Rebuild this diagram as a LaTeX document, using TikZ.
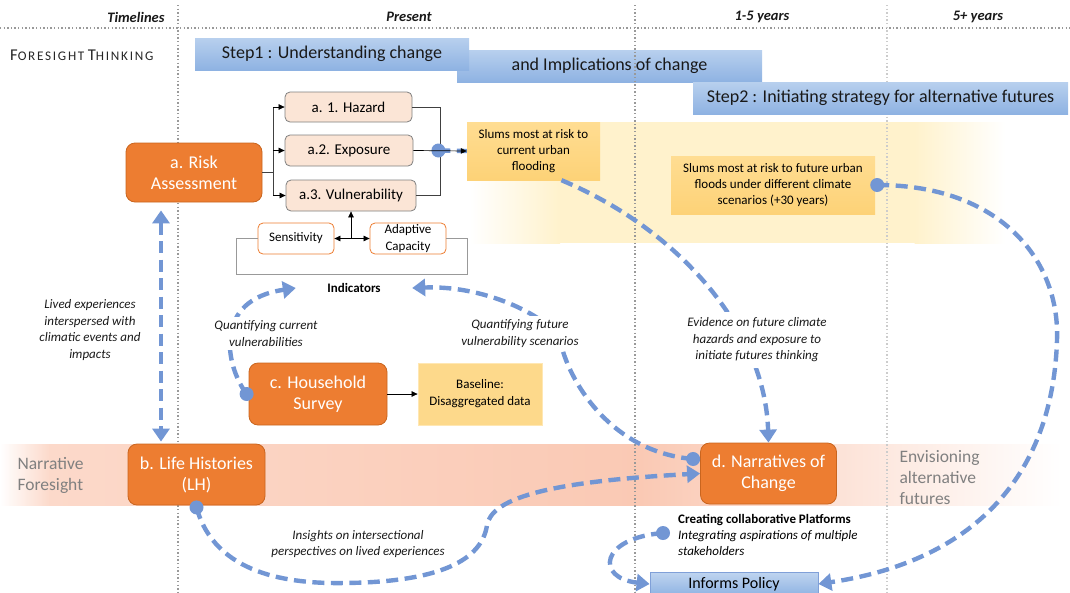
\documentclass[tikz,border=0pt]{standalone}
\usepackage{fontspec}
\setmainfont{Carlito}
\newfontfamily\ftsp[LetterSpace=13]{Carlito}
\usetikzlibrary{arrows.meta}
\definecolor{orn}{HTML}{ED7D31}
\definecolor{ornD}{HTML}{C9651F}
\definecolor{peach}{HTML}{FBE5D6}
\definecolor{slumT}{HTML}{FFDD92}
\definecolor{slumB}{HTML}{FDD277}
\definecolor{bandY}{HTML}{FFF2CC}
\definecolor{pinkA}{HTML}{FCD9CA}
\definecolor{pinkB}{HTML}{FAC9B4}
\definecolor{dblue}{HTML}{7296D4}
\definecolor{barT}{HTML}{B8D0EE}
\definecolor{barB}{HTML}{8EB2E2}
\definecolor{grayT}{HTML}{7F7F7F}
\tikzset{
 big/.style={rectangle, rounded corners=9pt, fill=orn, draw=ornD, line width=0.8pt, text=white, font=\fontsize{18}{21}\selectfont, align=center, inner sep=0pt},
 sub/.style={rectangle, rounded corners=5pt, fill=peach, draw=grayT, line width=0.8pt, font=\fontsize{15}{18}\selectfont, inner sep=0pt},
 ind/.style={rectangle, rounded corners=5pt, fill=white, draw=orn, line width=0.8pt, font=\fontsize{13}{16.5}\selectfont, align=center, inner sep=0pt},
 slumbox/.style={rectangle, top color=slumT, bottom color=slumB, font=\fontsize{13}{16}\selectfont, align=center, inner sep=0pt},
 basebox/.style={rectangle, fill=slumB!85!white, draw=slumT!70!white, line width=0.8pt, font=\fontsize{13}{17}\selectfont, align=center, inner sep=0pt},
 polbox/.style={rectangle, top color=barT!90!white, bottom color=barB, draw=dblue!90!white, line width=0.8pt, font=\fontsize{16}{19}\selectfont, inner sep=0pt},
 lbl/.style={font=\itshape\fontsize{13}{16.5}\selectfont, align=center, text=black!90},
 hdr/.style={font=\bfseries\itshape\fontsize{14.5}{17}\selectfont, text=black!90},
 bar/.style={rectangle, top color=barT, bottom color=barB, draw=none, inner sep=0pt, font=\fontsize{18}{21}\selectfont, text=black!90},
 ln/.style={draw=black!75, line width=0.7pt},
 blk/.style={draw=black, line width=0.7pt, -{Triangle[length=6pt,width=5.5pt]}},
 frm/.style={draw=black!40, line width=0.8pt},
 flow/.style={draw=dblue, line width=4.4pt, dash pattern=on 12pt off 6.5pt},
 fa/.style={-{Triangle[length=13pt,width=17pt]}},
 fab/.style={{Triangle[length=13pt,width=17pt]}-{Triangle[length=13pt,width=17pt]}},
 gridln/.style={draw=black!40, line width=1.4pt, dash pattern=on 1.4pt off 2.2pt},
 gridlt/.style={draw=black!20, line width=1.4pt, dash pattern=on 1.4pt off 2.2pt},
 sidetxt/.style={font=\fontsize{17.5}{21}\selectfont, text=black!50, align=left},
}
\begin{document}
\begin{tikzpicture}[x=1pt,y=-1pt]
\useasboundingbox (0,0) rectangle (1070,592);
% background bands
\fill[left color=white, right color=bandY] (470,122) rectangle (560,243);
\fill[bandY] (559.5,122) rectangle (915,243);
\fill[left color=bandY, right color=white] (914.5,122) rectangle (1005,243);
\fill[left color=white, right color=pinkA] (0,444) rectangle (50,505);
\fill[left color=pinkA, right color=pinkB] (49.5,444) rectangle (640,505);
\fill[left color=pinkB, right color=white] (639.5,444) rectangle (1062,505);
% middle bar
\node[bar, minimum width=305pt, minimum height=32pt] (impl) at (609.5,66) {and Implications of change};
% grid
\draw[gridln] (0,28) -- (1070,28);
\draw[gridln] (178,5) -- (178,592);
\draw[gridln] (635,5) -- (635,592);
\draw[gridlt] (887,5) -- (887,592);
% bars
\node[bar, minimum width=274pt, minimum height=32pt] (step1) at (332,54) {Step1 : Understanding change};
\node[bar, minimum width=375pt, minimum height=32pt] (step2) at (880.5,98) {Step2 : Initiating strategy for alternative futures};
% headers
\node[hdr, anchor=east] (tl) at (168,17) {Timelines};
\node[hdr] (pres) at (409,17) {Present};
\node[hdr] (y15) at (762,17) {1-5 years};
\node[hdr] (y5) at (978,17) {5+ years};
\node[anchor=west, text=black!85, inner sep=0pt, font=\ftsp] (ft) at (10,55) {{\fontsize{16.5}{20}\selectfont F}{\fontsize{13.2}{20}\selectfont ORESIGHT} {\fontsize{16.5}{20}\selectfont T}{\fontsize{13.2}{20}\selectfont HINKING}};
% side texts
\node[sidetxt, anchor=west] (nf) at (14,475.5) {Narrative\\Foresight};
\node[sidetxt, anchor=west] (env) at (896,478) {Envisioning\\alternative\\futures};
% nodes
\node[big, minimum width=136pt, minimum height=59pt] (risk) at (194,172.5) {a. Risk\\Assessment};
\node[sub, minimum width=127pt, minimum height=30pt] (haz) at (348.5,107) {a. 1. Hazard};
\node[sub, minimum width=128pt, minimum height=31pt] (exp) at (349,150.5) {a.2. Exposure};
\node[sub, minimum width=130pt, minimum height=31pt] (vul) at (351,195.5) {a.3. Vulnerability};
\node[ind, minimum width=76pt, minimum height=31pt] (sen) at (296,238.5) {Sensitivity};
\node[ind, minimum width=76pt, minimum height=31pt] (ada) at (408,238.5) {Adaptive\\Capacity};
\node[font=\bfseries\fontsize{13}{15}\selectfont] (indic) at (354,288) {Indicators};
\node[slumbox, minimum width=133pt, minimum height=58pt] (sl1) at (533.5,151) {Slums most at risk to\\current urban\\flooding};
\node[slumbox, minimum width=204pt, minimum height=58pt] (sl2) at (773,185) {Slums most at risk to future urban\\floods under different climate\\scenarios (+30 years)};
\node[big, minimum width=138pt, minimum height=62pt] (hh) at (318,394) {c. Household\\Survey};
\node[basebox, minimum width=124pt, minimum height=62pt] (base) at (480,394) {Baseline:\\Disaggregated data};
\node[big, minimum width=137pt, minimum height=61pt] (lh) at (196.5,474.5) {b. Life Histories\\(LH)};
\node[big, minimum width=136pt, minimum height=61pt] (narr) at (768.5,473.5) {d. Narratives of\\Change};
\node[polbox, minimum width=168pt, minimum height=24pt] (pol) at (734,584) {Informs Policy};
% black connectors
\coordinate (rj) at (273,172.5);
\coordinate (lj) at (440,151);
\draw[ln] (risk.east) -- (rj);
\draw[ln] (rj |- haz.west) -- (rj |- vul.west);
\draw[blk] (rj |- haz.west) -- (haz.west);
\draw[blk] (rj |- exp.west) -- (exp.west);
\draw[blk] (rj |- vul.west) -- (vul.west);
\draw[ln] (haz.east) -- (lj |- haz.east) -- (lj |- vul.east) -- (vul.east);
\coordinate (vj) at (351,238.5);
\draw[blk] (vj) -- (vul.south);
\draw[blk] (vj) -- (sen.east);
\draw[blk] (vj) -- (ada.west);
\draw[frm] (sen.west) -- ++(-21,0) |- (467,274) |- (ada.east);
\draw[blk] (hh.east) -- (base.west);
% blue flows
\coordinate (dE) at ([xshift=25pt]exp.east);
\draw[flow] (dE) -- (sl1.west);
\fill[dblue] (dE) circle[radius=7pt];
\draw[blk] (exp.east) -- (sl1.west);
\draw[flow, fab] ([xshift=-33pt,yshift=-8pt]risk.south) -- ([xshift=-35.5pt,yshift=2pt]lh.north);
\coordinate (dH) at ([xshift=-2pt]hh.west);
\draw[flow, fa] (dH) .. controls (225,365) and (213,300) .. ([xshift=-28pt]indic.west);
\fill[dblue] (dH) circle[radius=7pt];
\coordinate (dN) at ([xshift=-7pt,yshift=14.5pt]narr.west);
\draw[flow, fa] (dN) .. controls (610,452) and (568,380) .. (560,340) .. controls (552,320) and (490,285) .. ([xshift=28pt]indic.east);
\fill[dblue] (dN) circle[radius=7pt];
\draw[flow, fa] ([xshift=28pt]sl1.south) .. controls (680,230) and (765,330) .. (narr.north);
\coordinate (dS) at ([xshift=2pt]sl2.east);
\draw[flow, fa] (dS) .. controls (1000,185) and (1060,260) .. (1057,340) .. controls (1053,470) and (980,560) .. (pol.east);
\fill[dblue] (dS) circle[radius=7pt];
\coordinate (dL) at ([yshift=-2pt]lh.south);
\draw[flow, fa] (dL) .. controls (215,575) and (290,584) .. (345,583) .. controls (440,582) and (482,560) .. (487,525) .. controls (492,500) and (540,482) .. (narr.west);
\fill[dblue] (dL) circle[radius=7pt];
\node[anchor=west, align=left, font=\fontsize{13}{16}\selectfont, inner sep=0pt] (plat) at (678,535) {\textbf{Creating collaborative Platforms}\\\textit{Integrating aspirations of multiple}\\\textit{stakeholders}};
\coordinate (dC) at ([xshift=-15pt,yshift=2pt]plat.west);
\draw[flow, fa] (dC) .. controls (600,538) and (595,578) .. (pol.west);
\fill[dblue] (dC) circle[radius=7pt];
% labels
\node[lbl] (lived) at (90,330) {Lived experiences\\interspersed with\\climatic events and\\impacts};
\node[lbl, fill=white, inner sep=4pt] (qcur) at (266,333.5) {Quantifying current\\vulnerabilities};
\node[lbl, fill=white, inner sep=4pt] (qfut) at (520,333.5) {Quantifying future\\vulnerability scenarios};
\node[lbl, fill=white, inner sep=6pt] (evid) at (757,340) {Evidence on future climate\\hazards and exposure to\\initiate futures thinking};
\node[lbl] (ins) at (358,544) {Insights on intersectional\\perspectives on lived experiences};
\end{tikzpicture}
\end{document}
